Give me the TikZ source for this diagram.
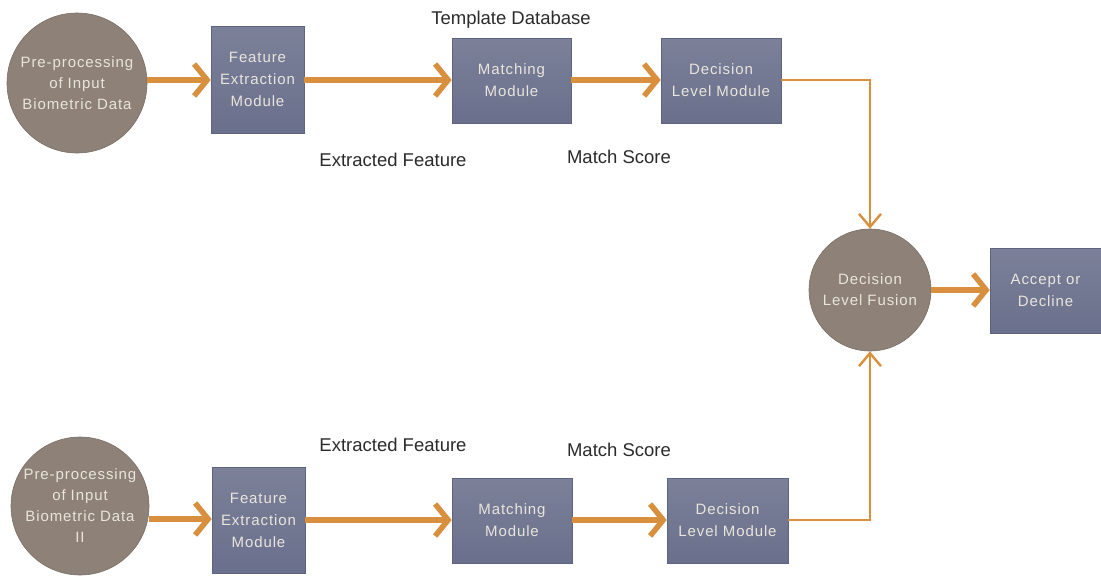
\documentclass[tikz,border=0pt]{standalone}
\usepackage{fontspec}
\setmainfont{Liberation Sans}
\newfontfamily\nodefont[LetterSpace=6]{Liberation Sans}
\usetikzlibrary{arrows.meta,shadings}
\definecolor{circfill}{HTML}{8E8178}
\definecolor{boxtop}{HTML}{7C8199}
\definecolor{boxbot}{HTML}{6A6F8C}
\definecolor{boxline}{HTML}{5E6380}
\definecolor{arr}{HTML}{D88F3E}
\definecolor{ntext}{HTML}{E9E5DD}
\definecolor{ltext}{HTML}{2B2B2B}
\begin{document}
\begin{tikzpicture}[x=1pt,y=-1pt,
  circnode/.style={circle,fill=circfill,draw=circfill!85!black,line width=0.6pt,inner sep=0pt,
    text=ntext,align=center,font=\nodefont\fontsize{15}{21}\selectfont},
  boxnode/.style={rectangle,top color=boxtop,bottom color=boxbot,draw=boxline,line width=0.6pt,
    inner sep=0pt,text=ntext,align=center,font=\nodefont\fontsize{15}{22}\selectfont},
  bigarrow/.style={draw=arr,line width=5.5pt,-{Straight Barb[length=13pt,width=32pt,line width=5.5pt]}},
  thinarrow/.style={draw=arr,line width=2.4pt,-{Straight Barb[length=13pt,width=22pt,line width=2.4pt]}},
  lbl/.style={text=ltext,font=\fontsize{18.5}{22}\selectfont,inner sep=0pt}]
\useasboundingbox (0,0) rectangle (1101,579);
% top row
\node[circnode,minimum size=140pt] (c1) at (77,83) {Pre-processing\\of Input\\Biometric Data};
\node[boxnode,minimum width=93pt,minimum height=107pt] (fe1) at (257.5,79.5) {Feature\\Extraction\\Module};
\node[boxnode,minimum width=119pt,minimum height=85pt] (m1) at (511.5,80.5) {Matching\\Module};
\node[boxnode,minimum width=120pt,minimum height=85pt] (d1) at (721,80.5) {Decision\\Level Module};
% fusion
\node[circnode,minimum size=122pt] (fus) at (870,290) {Decision\\Level Fusion};
\node[boxnode,minimum width=111pt,minimum height=85pt] (acc) at (1045.5,290.5) {Accept or\\Decline};
% bottom row
\node[circnode,minimum size=138pt] (c2) at (80,506) {Pre-processing\\of Input\\Biometric Data\\II};
\node[boxnode,minimum width=93pt,minimum height=106pt] (fe2) at (258.5,520) {Feature\\Extraction\\Module};
\node[boxnode,minimum width=120pt,minimum height=85pt] (m2) at (512,520.5) {Matching\\Module};
\node[boxnode,minimum width=121pt,minimum height=85pt] (d2) at (727.5,520.5) {Decision\\Level Module};
% labels
\node[lbl] (t1) at (511,20) {Template Database};
\node[lbl] (ef1) at (393,160) {Extracted Feature};
\node[lbl] (ms1) at (619,157) {Match Score};
\node[lbl] (ef2) at (393,445) {Extracted Feature};
\node[lbl] (ms2) at (619,450) {Match Score};
% arrows top
\draw[bigarrow] (c1.east |- 0,80) -- (fe1.west |- 0,80);
\draw[bigarrow] (fe1.east |- 0,80) -- (m1.west |- 0,80);
\draw[bigarrow] (m1.east |- 0,80) -- (d1.west |- 0,80);
\draw[thinarrow] (d1.east |- 0,80) -| (fus.north);
% arrows bottom
\draw[bigarrow] (c2.east |- 0,519) -- (fe2.west |- 0,519);
\draw[bigarrow] (fe2.east |- 0,520) -- (m2.west |- 0,520);
\draw[bigarrow] (m2.east |- 0,520) -- (d2.west |- 0,520);
\draw[thinarrow] (d2.east |- 0,520) -| (fus.south);
% fusion to accept
\draw[bigarrow] (fus.east |- 0,290) -- (acc.west |- 0,290);
\end{tikzpicture}
\end{document}
